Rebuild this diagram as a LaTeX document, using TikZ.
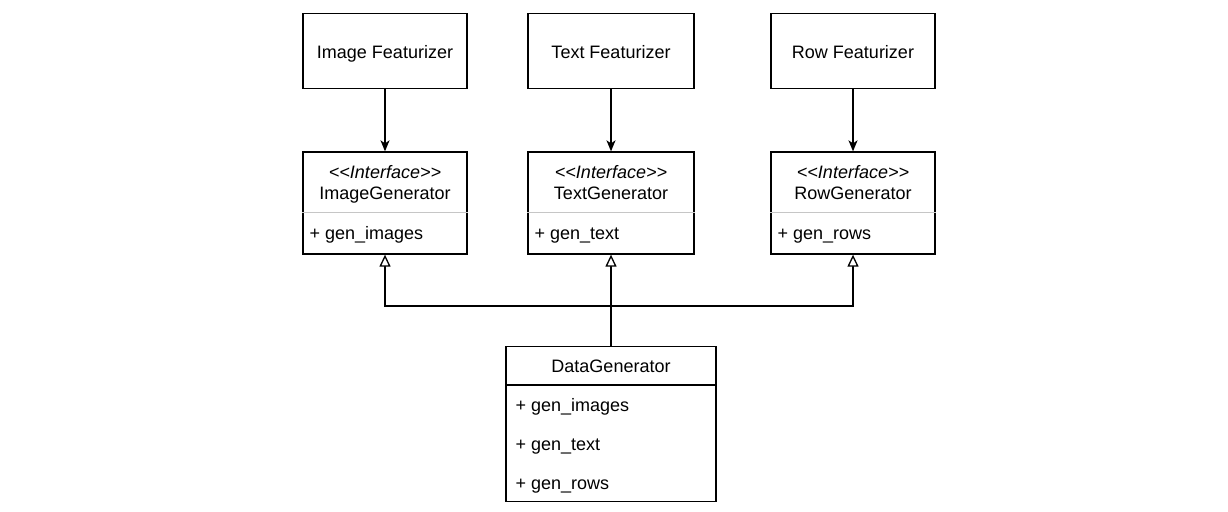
\documentclass[tikz,border=0pt]{standalone}
\usepackage{fontspec}
\setmainfont{Liberation Sans}[Ligatures=TeXOff]
\usetikzlibrary{arrows.meta}

\tikzstyle{featurizer}=[draw,line width=1.3pt,minimum height=75pt,inner sep=0pt]
\tikzstyle{iface}=[draw,line width=1.3pt,minimum height=102pt,inner sep=0pt]
\tikzstyle{txt}=[inner sep=0pt,text height=12pt,text depth=0pt,font=\fontsize{18}{21}\selectfont]
\tikzstyle{edge} = [draw,line width=1.3pt,-{Stealth[length=11pt,width=9pt,inset=3pt]}]
\tikzstyle{realize} = [draw,line width=1.3pt,-{Triangle[open,length=12pt,width=11pt,fill=white]}]

\begin{document}
\begin{tikzpicture}[x=1pt,y=-1pt]
     \useasboundingbox (0,0) rectangle (1228,511);

     % featurizers and generator interfaces
     \foreach \x/\w/\name/\feat/\gen/\op in {385/164/img/Image/ImageGenerator/gen\_images,
       611/166/txt/Text/TextGenerator/gen\_text, 853/164/row/Row/RowGenerator/gen\_rows}
     {
     \node[featurizer,minimum width=\w pt] (\name feat) at (\x,51) {};
     \node[txt] (\name featlabel) at (\x,53) {\feat{} Featurizer};
     \node[iface,minimum width=\w pt] (\name gen) at (\x,203) {};
     \draw[gray!45,line width=1pt] (\name gen.west |- 0,212) -- (\name gen.east |- 0,212);
     \node[txt] (\name stereo) at (\x,172) {\textit{<<Interface>>}};
     \node[txt] (\name genlabel) at (\x,193) {\gen};
     \node[txt,anchor=west] (\name op) at ([xshift=7pt]\name gen.west |- 0,233) {+ \op};
     \path[edge] (\name feat) -- (\name gen);
     }

     % data generator
     \node[draw,line width=1.3pt,minimum width=210pt,minimum height=155pt,inner sep=0pt] (dg) at (611,424) {};
     \draw[line width=1.3pt] (dg.west |- 0,385) -- (dg.east |- 0,385);
     \node[txt] (dglabel) at (611,366) {DataGenerator};
     \foreach \y/\op in {405/gen\_images, 444/gen\_text, 483/gen\_rows}
     \node[txt,anchor=west] at ([xshift=10pt]dg.west |- 0,\y) {+ \op};

     \coordinate (bus) at (611,306);
     \path[realize] (dg.north) -- (txtgen.south);
     \path[realize] (bus) -| (imggen.south);
     \path[realize] (bus) -| (rowgen.south);
   \end{tikzpicture}
\end{document}
